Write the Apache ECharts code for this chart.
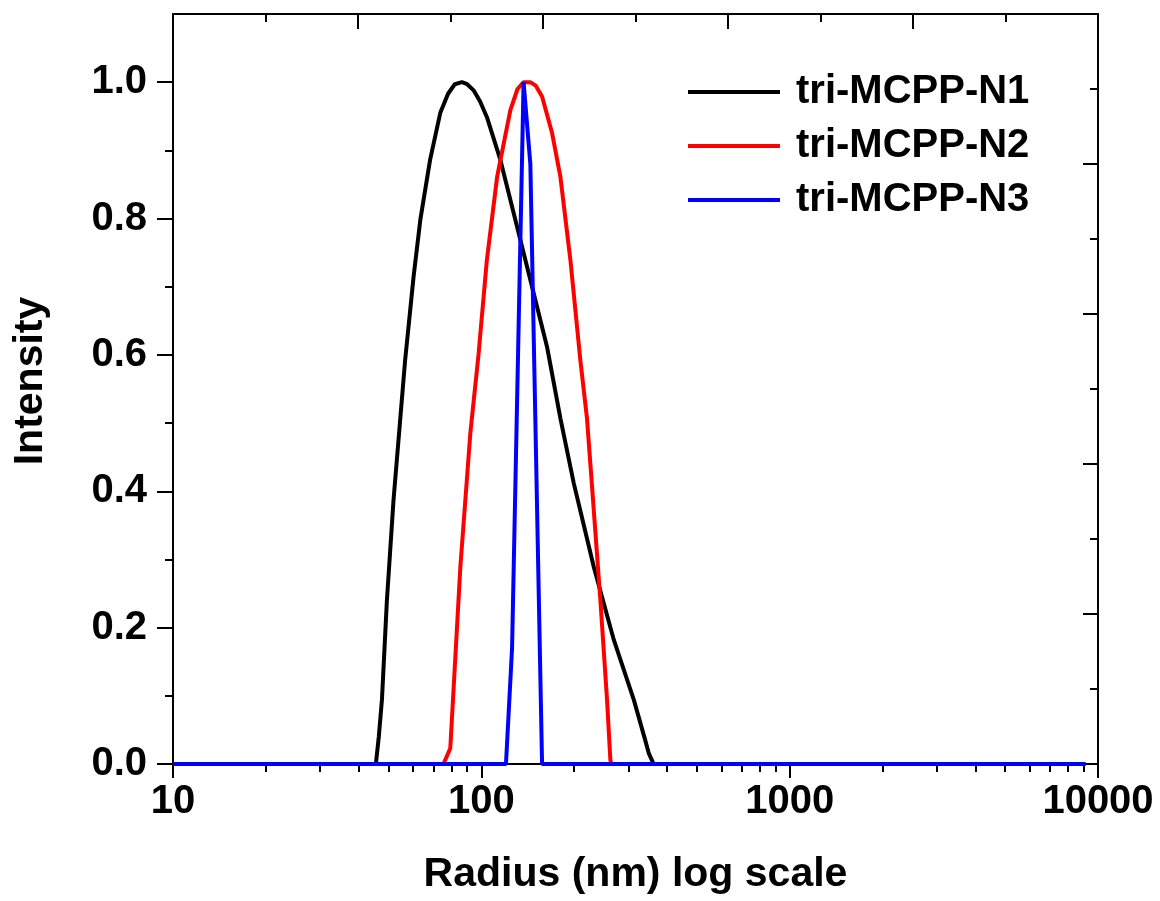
<!DOCTYPE html>
<html>
<head>
<meta charset="utf-8">
<script src="https://cdn.jsdelivr.net/npm/echarts@6/dist/echarts.min.js"></script>
<style>
html,body{margin:0;padding:0;background:#fff;}
#chart{width:1160px;height:901px;}
</style>
</head>
<body>
<div id="chart"></div>
<script>
// ---- data (radius in nm, intensity normalised) ----
const seriesNames = ['tri-MCPP-N1', 'tri-MCPP-N2', 'tri-MCPP-N3'];
const seriesColors = ['#000000', '#ff0000', '#0000ff'];

const n1 = [[10,0],[45.5,0],[46.5,0.04],[47.6,0.094],[49.4,0.24],[51.9,0.387],[54.6,0.507],[56.6,0.592],[60.3,0.715],[63.4,0.798],[68.2,0.886],[73.6,0.955],[78,0.983],[82,0.997],[86.5,1.0],[90,0.997],[94.4,0.988],[99,0.972],[104.2,0.949],[115.3,0.886],[130.6,0.788],[147.9,0.69],[163.3,0.612],[180.5,0.507],[199.4,0.412],[231.6,0.289],[269,0.182],[312.3,0.094],[340,0.035],[349,0.016],[362,0],[9100,0]];
const n2 = [[10,0],[75.4,0],[79.3,0.023],[85.5,0.289],[92.1,0.485],[97.9,0.6],[104.2,0.739],[112.5,0.861],[124.2,0.959],[131,0.99],[137.1,1.0],[144.2,1.0],[150,0.995],[157.4,0.979],[169.7,0.925],[180.5,0.861],[194.5,0.739],[209.5,0.592],[220.1,0.507],[226.1,0.436],[243.3,0.24],[255.7,0.094],[262.1,0.006],[264,0],[9100,0]];
const n3 = [[10,0],[120.2,0],[125.8,0.17],[137.1,1.0],[144.2,0.88],[157.4,0],[9100,0]];

const xMajorTicks = [10, 100, 1000, 10000];
const xMinorTicks = [20,30,40,50,60,70,80,90,200,300,400,500,600,700,800,900,2000,3000,4000,5000,6000,7000,8000,9000];
const yMajorTicks = [0, 0.2, 0.4, 0.6, 0.8, 1.0];
const yMinorTicks = [0.1, 0.3, 0.5, 0.7, 0.9];

const FONT = 'Liberation Sans, Arial, sans-serif';
const black = '#000000';

const chart = echarts.init(document.getElementById('chart'), null, {renderer: 'canvas'});

const option = {
  animation: false,
  backgroundColor: '#ffffff',
  grid: {left: 173, right: 62, top: 14, bottom: 137},
  legend: {
    orient: 'vertical',
    left: 688,
    top: 72,
    padding: 0,
    itemWidth: 92,
    itemHeight: 4,
    itemGap: 14,
    icon: 'rect',
    data: seriesNames,
    textStyle: {fontFamily: FONT, fontWeight: 'bold', fontSize: 40, color: black, lineHeight: 40, padding: [0, 0, 0, 11]}
  },
  xAxis: [
    {
      type: 'log', logBase: 10, min: 10, max: 10000, position: 'bottom',
      axisLine: {onZero: false, lineStyle: {color: black, width: 2}},
      axisTick: {customValues: xMajorTicks, length: 14, lineStyle: {color: black, width: 2}},
      axisLabel: {customValues: xMajorTicks, margin: 18, fontFamily: FONT, fontWeight: 'bold', fontSize: 40, color: black,
                  formatter: function (v) { return String(Math.round(v)); }},
      splitLine: {show: false},
      name: 'Radius (nm) log scale', nameLocation: 'middle', nameGap: 90,
      nameTextStyle: {fontFamily: FONT, fontWeight: 'bold', fontSize: 41, color: black, verticalAlign: 'top'}
    },
    {
      type: 'log', logBase: 10, min: 10, max: 10000, position: 'bottom',
      axisLine: {show: false, onZero: false},
      axisTick: {customValues: xMinorTicks, length: 8, lineStyle: {color: black, width: 2}},
      axisLabel: {show: false},
      splitLine: {show: false}
    },
    {
      type: 'value', min: 0, max: 3, interval: 0.6, position: 'top',
      axisLine: {onZero: false, lineStyle: {color: black, width: 2}},
      axisTick: {inside: true, length: 15, lineStyle: {color: black, width: 2}},
      minorTick: {show: true, splitNumber: 2, length: 8, lineStyle: {color: black, width: 2}},
      axisLabel: {show: false},
      splitLine: {show: false}, minorSplitLine: {show: false}
    }
  ],
  yAxis: [
    {
      type: 'value', min: 0, max: 1.1, position: 'left',
      axisLine: {onZero: false, lineStyle: {color: black, width: 2}},
      axisTick: {customValues: yMajorTicks, length: 16, lineStyle: {color: black, width: 2}},
      axisLabel: {customValues: yMajorTicks, margin: 26, fontFamily: FONT, fontWeight: 'bold', fontSize: 40, color: black,
                  formatter: function (v) { return Number(v).toFixed(1); }},
      splitLine: {show: false},
      name: 'Intensity', nameLocation: 'middle', nameGap: 122,
      nameTextStyle: {fontFamily: FONT, fontWeight: 'bold', fontSize: 41, color: black, padding: [0, 0, 0, 16]}
    },
    {
      type: 'value', min: 0, max: 1.1, position: 'left',
      axisLine: {show: false, onZero: false},
      axisTick: {customValues: yMinorTicks, length: 8, lineStyle: {color: black, width: 2}},
      axisLabel: {show: false},
      splitLine: {show: false}
    },
    {
      type: 'value', min: 0, max: 1, interval: 0.2, position: 'right',
      axisLine: {onZero: false, lineStyle: {color: black, width: 2}},
      axisTick: {inside: true, length: 15, lineStyle: {color: black, width: 2}},
      minorTick: {show: true, splitNumber: 2, length: 8, lineStyle: {color: black, width: 2}},
      axisLabel: {show: false},
      splitLine: {show: false}, minorSplitLine: {show: false}
    }
  ],
  series: [n1, n2, n3].map(function (d, i) {
    return {
      name: seriesNames[i], type: 'line', xAxisIndex: 0, yAxisIndex: 0,
      data: d, symbol: 'none', smooth: false,
      lineStyle: {color: seriesColors[i], width: 4},
      itemStyle: {color: seriesColors[i]},
      z: 2 + i
    };
  })
};
chart.setOption(option);
</script>
</body>
</html>
